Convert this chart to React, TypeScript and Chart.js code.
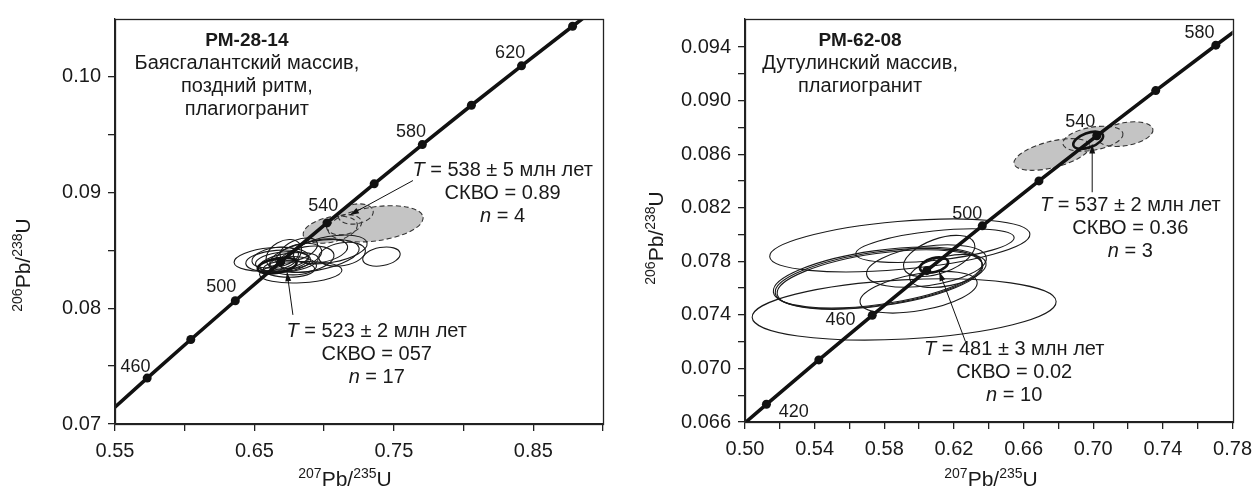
import React, { useEffect, useRef } from "react";
import { Chart, registerables } from "chart.js";
Chart.register(...registerables);

// ---------- data ----------
const concordiaAges = [400, 420, 440, 460, 480, 500, 520, 540, 560, 580, 600, 620, 640, 660];
const concordiaX = [0.48281, 0.51231, 0.54239, 0.57307, 0.60437, 0.63628, 0.66883, 0.70203, 0.73588, 0.77041, 0.80563, 0.84155, 0.87818, 0.91554];
const concordiaY = [0.064017, 0.067322, 0.070638, 0.073965, 0.077302, 0.08065, 0.084008, 0.087376, 0.090755, 0.094144, 0.097544, 0.100954, 0.104376, 0.107807];

const leftXTicks = [0.55, 0.6, 0.65, 0.7, 0.75, 0.8, 0.85, 0.9];
const leftXLabels = ["0.55", "", "0.65", "", "0.75", "", "0.85", ""];
const leftYTicks = [0.07, 0.075, 0.08, 0.085, 0.09, 0.095, 0.1];
const leftYLabels = ["0.07", "", "0.08", "", "0.09", "", "0.10"];

const rightXTicks = [0.5, 0.52, 0.54, 0.56, 0.58, 0.6, 0.62, 0.64, 0.66, 0.68, 0.7, 0.72, 0.74, 0.76, 0.78];
const rightXLabels = ["0.50", "", "0.54", "", "0.58", "", "0.62", "", "0.66", "", "0.70", "", "0.74", "", "0.78"];
const rightYTicks = [0.066, 0.068, 0.07, 0.072, 0.074, 0.076, 0.078, 0.08, 0.082, 0.084, 0.086, 0.088, 0.09, 0.092, 0.094];
const rightYLabels = ["0.066", "", "0.070", "", "0.074", "", "0.078", "", "0.082", "", "0.086", "", "0.090", "", "0.094"];

// ellipses: [x, y, semi-axis x, semi-axis y, rotation deg]
const leftGray = [
  [0.7369, 0.0873, 0.0344, 0.00147, -8],
  [0.7227, 0.08815, 0.0127, 0.00085, -10],
  [0.7044, 0.08679, 0.0198, 0.00108, -12],
  [0.7143, 0.08722, 0.0127, 0.00085, -10],
];
const leftWhite = [
  [0.6621, 0.08424, 0.0268, 0.00099, -5],
  [0.6663, 0.0841, 0.0226, 0.00091, -5],
  [0.6705, 0.08402, 0.0198, 0.00085, -5],
  [0.6748, 0.08396, 0.0212, 0.00079, -8],
  [0.6711, 0.08467, 0.0136, 0.00113, -30],
  [0.6832, 0.08311, 0.0296, 0.00091, -3],
  [0.6931, 0.08453, 0.0325, 0.00127, -10],
  [0.7044, 0.08509, 0.0268, 0.00113, -10],
  [0.6875, 0.08424, 0.0198, 0.00108, -10],
  [0.6818, 0.08453, 0.0169, 0.00099, -15],
  [0.7411, 0.08447, 0.0136, 0.00079, -10],
  [0.6776, 0.08368, 0.0169, 0.00079, 0],
  [0.6973, 0.08495, 0.0198, 0.00099, -10],
  [0.6649, 0.08439, 0.0169, 0.00085, -10],
  [0.7129, 0.08467, 0.0169, 0.00099, -10],
  [0.6818, 0.08509, 0.0141, 0.00085, -20],
  [0.6748, 0.08339, 0.0184, 0.00071, 0],
];
const leftConcordiaAge = [[0.6663, 0.08368, 0.0141, 0.00062, -10]];

const rightGray = [
  [0.6763, 0.08598, 0.0224, 0.00098, -14],
  [0.6998, 0.08716, 0.0175, 0.00086, -10],
  [0.7184, 0.0875, 0.0161, 0.00086, -10],
];
const rightWhite = [
  [0.5889, 0.07919, 0.075, 0.00179, -5],
  [0.6091, 0.07917, 0.0457, 0.0011, -6],
  [0.6042, 0.07765, 0.0347, 0.00147, -8],
  [0.6115, 0.0784, 0.0215, 0.00128, -20],
  [0.5997, 0.07569, 0.0341, 0.00137, -10],
  [0.5914, 0.07441, 0.0874, 0.00221, -3],
  [0.5762, 0.07679, 0.0605, 0.00201, -8],
  [0.5768, 0.07671, 0.06, 0.00199, -8],
  [0.5775, 0.07664, 0.0596, 0.00196, -8],
  [0.6165, 0.07728, 0.0224, 0.0011, -12],
];
const rightConcordiaAge = [
  [0.6086, 0.07772, 0.0083, 0.00052, -15],
  [0.6971, 0.08704, 0.009, 0.00054, -20],
];

// ---------- annotation layout ----------
const FONT = '"Liberation Sans", Arial, Helvetica, sans-serif';

const leftAnno = {
  ageLabels: [
    ["460", 0.5647, 0.0749],
    ["500", 0.6262, 0.08184],
    ["540", 0.6993, 0.08886],
    ["580", 0.7623, 0.0952],
    ["620", 0.8334, 0.10208],
  ],
  arrows: [
    [0.7637, 0.09104, 0.7185, 0.08807],
    [0.6776, 0.07943, 0.6734, 0.08311],
  ],
  blocks: [
    { x: 0.6446, y: 0.10313, lines: [[["РМ-28-14", "b"]], [["Баясгалантский массив,", ""]], [["поздний ритм,", ""]], [["плагиогранит", ""]]] },
    { x: 0.828, y: 0.09189, lines: [[["T", "i"], [" = 538 ± 5 млн лет", ""]], [["СКВО = 0.89", ""]], [["n", "i"], [" = 4", ""]]] },
    { x: 0.7377, y: 0.07801, lines: [[["T", "i"], [" = 523 ± 2 млн лет", ""]], [["СКВО = 057", ""]], [["n", "i"], [" = 17", ""]]] },
  ],
  yTitle: { x: 30, y: 265 },
  xTitle: { x: 345, y: 486 },
};

const rightAnno = {
  ageLabels: [
    ["420", 0.528, 0.06674],
    ["460", 0.5549, 0.0736],
    ["500", 0.6277, 0.08157],
    ["540", 0.6926, 0.08839],
    ["580", 0.761, 0.09505],
  ],
  arrows: [
    [0.6266, 0.07201, 0.6116, 0.07721],
    [0.6994, 0.08316, 0.6994, 0.08672],
  ],
  blocks: [
    { x: 0.5661, y: 0.09449, lines: [[["РМ-62-08", "b"]], [["Дутулинский массив,", ""]], [["плагиогранит", ""]]] },
    { x: 0.7213, y: 0.08218, lines: [[["T", "i"], [" = 537 ± 2 млн лет", ""]], [["СКВО = 0.36", ""]], [["n", "i"], [" = 3", ""]]] },
    { x: 0.6546, y: 0.07139, lines: [[["T", "i"], [" = 481 ± 3 млн лет", ""]], [["СКВО = 0.02", ""]], [["n", "i"], [" = 10", ""]]] },
  ],
  yTitle: { x: 33, y: 238 },
  xTitle: { x: 361, y: 486 },
};

// ---------- helpers ----------
function ellPath(chart: any, e: number[]) {
  const xs = chart.scales.x, ys = chart.scales.y, ctx = chart.ctx;
  const cx = xs.getPixelForValue(e[0]);
  const cy = ys.getPixelForValue(e[1]);
  const rx = Math.abs(xs.getPixelForValue(e[0] + e[2]) - cx);
  const ry = Math.abs(ys.getPixelForValue(e[1] + e[3]) - cy);
  ctx.beginPath();
  ctx.ellipse(cx, cy, rx, ry, (e[4] * Math.PI) / 180, 0, Math.PI * 2);
}

function segFont(style: string) {
  if (style === "b") return `bold 19px ${FONT}`;
  if (style === "i") return `italic 20px ${FONT}`;
  return `20px ${FONT}`;
}

function drawSegs(ctx: any, segs: any[], cx: number, cy: number) {
  let total = 0;
  for (const s of segs) {
    ctx.font = s.font;
    total += ctx.measureText(s.t).width;
  }
  let x = cx - total / 2;
  for (const s of segs) {
    ctx.font = s.font;
    ctx.fillText(s.t, x, cy + (s.dy || 0));
    x += ctx.measureText(s.t).width;
  }
}

function titleSegs(a: string, b: string, c: string, d: string) {
  const main = `21px ${FONT}`;
  const sup = `14px ${FONT}`;
  return [
    { t: a, font: sup, dy: -8 },
    { t: b, font: main },
    { t: "/", font: main },
    { t: c, font: sup, dy: -8 },
    { t: d, font: main },
  ];
}

function makePlugin(gray: number[][], white: number[][], thick: number[][], anno: any) {
  return {
    id: "concordiaExtras",
    beforeDatasetsDraw(chart: any) {
      const ctx = chart.ctx;
      const a = chart.chartArea;
      ctx.save();
      ctx.beginPath();
      ctx.rect(a.left, a.top, a.right - a.left, a.bottom - a.top);
      ctx.clip();
      ctx.fillStyle = "#c4c4c4";
      for (const e of gray) {
        ellPath(chart, e);
        ctx.fill();
      }
      ctx.setLineDash([5, 3]);
      ctx.strokeStyle = "#333";
      ctx.lineWidth = 1.1;
      for (const e of gray) {
        ellPath(chart, e);
        ctx.stroke();
      }
      ctx.setLineDash([]);
      ctx.strokeStyle = "#1a1a1a";
      ctx.lineWidth = 1.1;
      for (const e of white) {
        ellPath(chart, e);
        ctx.stroke();
      }
      ctx.restore();
    },
    afterDatasetsDraw(chart: any) {
      const ctx = chart.ctx;
      const xs = chart.scales.x, ys = chart.scales.y;
      ctx.save();
      ctx.strokeStyle = "#111";
      ctx.lineWidth = 2.6;
      for (const e of thick) {
        ellPath(chart, e);
        ctx.stroke();
      }
      // arrows
      ctx.lineWidth = 1;
      ctx.fillStyle = "#111";
      for (const ar of anno.arrows) {
        const x1 = xs.getPixelForValue(ar[0]), y1 = ys.getPixelForValue(ar[1]);
        const x2 = xs.getPixelForValue(ar[2]), y2 = ys.getPixelForValue(ar[3]);
        ctx.beginPath();
        ctx.moveTo(x1, y1);
        ctx.lineTo(x2, y2);
        ctx.stroke();
        const ang = Math.atan2(y2 - y1, x2 - x1);
        const L = 9, W = 3;
        ctx.beginPath();
        ctx.moveTo(x2, y2);
        ctx.lineTo(x2 - L * Math.cos(ang) + W * Math.sin(ang), y2 - L * Math.sin(ang) - W * Math.cos(ang));
        ctx.lineTo(x2 - L * Math.cos(ang) - W * Math.sin(ang), y2 - L * Math.sin(ang) + W * Math.cos(ang));
        ctx.closePath();
        ctx.fill();
      }
      ctx.restore();
    },
    afterDraw(chart: any) {
      const ctx = chart.ctx;
      const a = chart.chartArea;
      const xs = chart.scales.x, ys = chart.scales.y;
      ctx.save();
      ctx.strokeStyle = "#222";
      ctx.lineWidth = 1.3;
      ctx.strokeRect(Math.round(a.left) + 0.5, Math.round(a.top) + 0.5, Math.round(a.right - a.left), Math.round(a.bottom - a.top));
      ctx.fillStyle = "#1a1a1a";
      ctx.textBaseline = "middle";
      ctx.textAlign = "left";
      ctx.font = `18px ${FONT}`;
      for (const l of anno.ageLabels) {
        const w = ctx.measureText(l[0]).width;
        ctx.fillText(l[0], xs.getPixelForValue(l[1]) - w / 2, ys.getPixelForValue(l[2]));
      }
      for (const b of anno.blocks) {
        const cx = xs.getPixelForValue(b.x);
        const cy = ys.getPixelForValue(b.y);
        b.lines.forEach((line: any[], i: number) => {
          const segs = line.map((s: any) => ({ t: s[0], font: segFont(s[1]) }));
          drawSegs(ctx, segs, cx, cy + i * 23);
        });
      }
      ctx.textBaseline = "alphabetic";
      drawSegs(ctx, titleSegs("207", "Pb", "235", "U"), anno.xTitle.x, anno.xTitle.y);
      ctx.translate(anno.yTitle.x, anno.yTitle.y);
      ctx.rotate(-Math.PI / 2);
      drawSegs(ctx, titleSegs("206", "Pb", "238", "U"), 0, 0);
      ctx.restore();
    },
  };
}

function makeConfig(p: any) {
  const tickFont = { family: FONT, size: 20 };
  return {
    type: "scatter",
    data: {
      datasets: [
        {
          data: concordiaX.map((x, i) => ({ x, y: concordiaY[i], age: concordiaAges[i] })),
          showLine: true,
          borderColor: "#111",
          borderWidth: 3.6,
          pointRadius: 4.5,
          pointBackgroundColor: "#111",
          pointBorderColor: "#111",
          pointBorderWidth: 0,
          clip: 0,
          tension: 0,
        },
      ],
    },
    options: {
      animation: false,
      responsive: false,
      devicePixelRatio: 1,
      events: [],
      layout: { padding: { top: 12, right: p.padRight, left: 0, bottom: 0 } },
      plugins: { legend: { display: false }, tooltip: { enabled: false } },
      scales: {
        x: {
          type: "linear",
          min: p.xMin,
          max: p.xMax,
          afterBuildTicks: (s: any) => {
            s.ticks = p.xTicks.map((v: number) => ({ value: v }));
          },
          afterFit: (s: any) => {
            s.height = p.xHeight;
          },
          ticks: {
            autoSkip: false,
            maxRotation: 0,
            padding: 8,
            color: "#1a1a1a",
            font: tickFont,
            callback: (_v: any, i: number) => p.xLabels[i],
          },
          grid: { drawOnChartArea: false, drawTicks: true, tickLength: 7, color: "#222", lineWidth: 1.3 },
          border: { display: true, color: "#222", width: 1.3 },
        },
        y: {
          type: "linear",
          min: p.yMin,
          max: p.yMax,
          afterBuildTicks: (s: any) => {
            s.ticks = p.yTicks.map((v: number) => ({ value: v }));
          },
          afterFit: (s: any) => {
            s.width = p.yWidth;
          },
          ticks: {
            autoSkip: false,
            padding: 7,
            color: "#1a1a1a",
            font: tickFont,
            callback: (_v: any, i: number) => p.yLabels[i],
          },
          grid: { drawOnChartArea: false, drawTicks: true, tickLength: 7, color: "#222", lineWidth: 1.3 },
          border: { display: true, color: "#222", width: 1.3 },
        },
      },
    },
    plugins: [makePlugin(p.gray, p.white, p.thick, p.anno)],
  };
}

const leftParams = {
  xMin: 0.55, xMax: 0.9, yMin: 0.07, yMax: 0.105,
  xTicks: leftXTicks, xLabels: leftXLabels, yTicks: leftYTicks, yLabels: leftYLabels,
  yWidth: 115, padRight: 27, xHeight: 65,
  gray: leftGray, white: leftWhite, thick: leftConcordiaAge, anno: leftAnno,
};
const rightParams = {
  xMin: 0.5, xMax: 0.78, yMin: 0.066, yMax: 0.0961,
  xTicks: rightXTicks, xLabels: rightXLabels, yTicks: rightYTicks, yLabels: rightYLabels,
  yWidth: 115, padRight: 22, xHeight: 67,
  gray: rightGray, white: rightWhite, thick: rightConcordiaAge, anno: rightAnno,
};

function Panel({ params, left, width }: { params: any; left: number; width: number }) {
  const ref = useRef<HTMLCanvasElement | null>(null);
  useEffect(() => {
    if (!ref.current) return;
    const chart = new Chart(ref.current, makeConfig(params) as any);
    return () => chart.destroy();
  }, []);
  return (
    <canvas
      ref={ref}
      width={width}
      height={489}
      style={{ position: "absolute", left, top: 0, width, height: 489 }}
    />
  );
}

export default function App() {
  return (
    <div style={{ position: "absolute", left: 0, top: 0, width: 1260, height: 489, background: "#fff", overflow: "hidden" }}>
      <Panel params={leftParams} left={0} width={630} />
      <Panel params={rightParams} left={630} width={630} />
    </div>
  );
}
